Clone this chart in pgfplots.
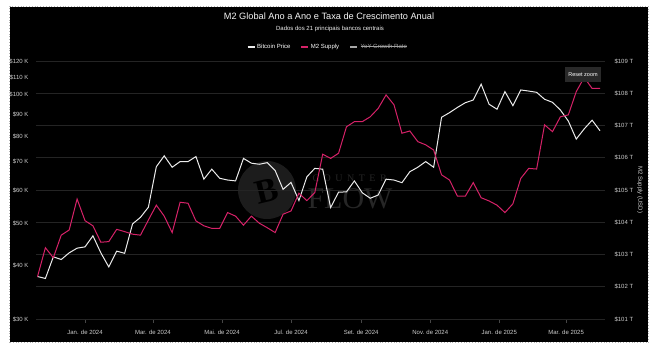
\documentclass[border=0pt]{standalone}
\usepackage{pgfplots}
\usepackage{pgfplotstable}
\pgfplotsset{compat=1.18}
\usepackage{fontspec}
\setmainfont{Liberation Sans}
\setsansfont{Liberation Sans}
\newfontfamily\wmfont{Liberation Serif}
\newfontfamily\wmspaced[LetterSpace=45]{Liberation Serif}
\newsavebox\strikebox
\newcommand\strike[1]{\sbox\strikebox{#1}\usebox\strikebox\hspace{-\wd\strikebox}\rule[0.3em]{\wd\strikebox}{0.45pt}}
\definecolor{mtwo}{RGB}{214,34,104}
\definecolor{btc}{RGB}{236,236,236}
\definecolor{gridc}{RGB}{36,36,36}
\definecolor{tickc}{RGB}{205,205,205}

\pgfplotstableread{
day btc m2
-42 37.7 102.31
-35 37.3 103.21
-28 41.9 102.90
-21 41.3 103.60
-14 42.8 103.76
-7 43.9 104.72
0 44.2 104.05
7 46.9 103.89
14 42.8 103.38
21 39.7 103.40
28 43.2 103.78
35 42.7 103.71
42 50.0 103.63
49 51.8 103.60
56 54.7 104.07
63 68.0 104.53
70 72.1 104.19
77 67.8 103.68
84 69.9 104.62
91 69.9 104.59
98 71.8 104.04
105 63.6 103.89
112 67.1 103.81
119 63.9 103.81
126 63.3 104.30
133 63.0 104.19
140 71.1 103.91
147 69.3 104.19
154 68.9 103.97
161 69.5 103.83
168 66.6 103.68
175 60.2 104.25
182 62.5 104.35
189 56.7 104.90
196 64.4 104.67
203 67.4 104.92
210 67.1 106.11
217 54.6 105.98
224 59.3 106.14
231 59.4 106.96
238 63.0 107.12
245 59.1 107.12
252 57.4 107.27
259 58.4 107.53
266 63.6 107.95
273 63.3 107.64
280 62.4 106.76
287 66.2 106.83
294 67.8 106.50
301 69.9 106.40
308 67.8 106.24
315 88.7 105.47
322 90.9 105.31
329 93.5 104.81
336 95.9 104.81
343 97.3 105.23
350 105.9 104.76
357 95.1 104.66
364 92.6 104.53
371 101.8 104.30
378 94.4 104.57
385 102.7 105.36
392 102.1 105.67
399 101.4 105.65
406 97.7 107.02
413 96.1 106.81
420 92.2 107.27
427 86.9 107.33
434 78.9 108.05
441 83.3 108.49
448 87.3 108.15
455 82.5 108.15
}\datatable

\begin{document}
\begin{tikzpicture}[x=1pt,y=1pt]
\useasboundingbox (0,0) rectangle (660,351);
\fill[white] (0,0) rectangle (660,351);
\fill[black] (10,9) rectangle (648,344);
\draw[gray!60, dotted, line width=0.8pt] (9.5,8.5) rectangle (648.5,344.5);
% watermark
\fill[black!89!white] (267,161) circle (29);
\node[rotate=14, text=black, font=\wmfont\bfseries\fontsize{34}{34}\selectfont] at (267,160) {B};
\node[text=black!85!white, font=\wmspaced\fontsize{10}{10}\selectfont, anchor=west] at (309,173) {COUNTER};
\node[text=black!85!white, font=\wmfont\fontsize{30}{30}\selectfont, anchor=west] at (304,152) {FLOW};

\begin{axis}[
  at={(36pt,32pt)}, anchor=south west, scale only axis,
  width=569pt, height=258pt,
  xmin=-43.3, xmax=459.4,
  ymode=log, ymin=30, ymax=120,
  axis x line*=bottom, axis y line*=left,
  axis line style={draw=none},
  xtick={0,60,121,182,244,305,366,425},
  xticklabels={Jan. de 2024, Mar. de 2024, Mai. de 2024, Jul. de 2024, Set. de 2024, Nov. de 2024, Jan. de 2025, Mar. de 2025},
  ytick={30,40,50,60,70,80,90,100,110,120},
  yticklabels={\$30 K,\$40 K,\$50 K,\$60 K,\$70 K,\$80 K,\$90 K,\$100 K,\$110 K,\$120 K},
  extra y ticks={30,35.676,42.426,50.454,60,71.352,84.853,100.907,120},
  extra y tick labels={},
  extra y tick style={grid=major, tick style={draw=none}},
  major grid style={gridc, line width=0.6pt},
  xtick style={draw=gray!55!black, line width=0.5pt},
  ytick style={draw=none},
  major tick length=4pt,
  minor tick num=0,
  tick align=outside,
  ticklabel style={font=\fontsize{6}{7}\selectfont, text=tickc},
  xticklabel style={yshift=-4pt},
]
\addplot[btc, line width=1pt] table[x=day, y=btc] {\datatable};
\end{axis}

\begin{axis}[
  at={(36pt,32pt)}, anchor=south west, scale only axis,
  width=569pt, height=258pt,
  xmin=-43.3, xmax=459.4,
  ymin=101, ymax=109,
  axis y line*=right, axis x line=none,
  axis line style={draw=none},
  ytick={101,102,103,104,105,106,107,108,109},
  yticklabels={\$101 T,\$102 T,\$103 T,\$104 T,\$105 T,\$106 T,\$107 T,\$108 T,\$109 T},
  ytick style={draw=none},
  major tick length=4pt,
  tick align=outside,
  ticklabel style={font=\fontsize{6}{7}\selectfont, text=tickc},
  yticklabel style={xshift=2pt},
  legend style={at={(0.513,1.054)}, anchor=center, draw=none, fill=none,
    text=white, font=\fontsize{6}{7}\selectfont, legend columns=3,
    /tikz/every even column/.append style={column sep=8pt}},
  legend image code/.code={\draw[#1] (0pt,0pt) -- (7pt,0pt);},
]
\addlegendimage{btc, line width=1.3pt}
\addlegendentry{Bitcoin Price}
\addlegendimage{mtwo, line width=1.3pt}
\addlegendentry{M2 Supply}
\addlegendimage{gray!70, line width=2.5pt}
\addlegendentry{\textcolor{gray!75}{\strike{YoY Growth Rate}}}
\addplot[mtwo, line width=1pt, forget plot] table[x=day, y=m2] {\datatable};
\end{axis}

\node[text=white!92!gray, font=\fontsize{9.2}{11}\selectfont] at (329,334.5) {M2 Global Ano a Ano e Taxa de Crescimento Anual};
\node[text=white!88!gray, font=\fontsize{6}{7}\selectfont] at (330,322) {Dados dos 21 principais bancos centrais};
\node[rotate=-90, text=tickc, font=\fontsize{6}{7}\selectfont] at (640,161) {M2 Supply (USD)};
\node[fill=black!84!white, text=white, font=\fontsize{5.5}{6}\selectfont, minimum width=36pt, minimum height=15pt, inner sep=0pt] at (583,276.5) {Reset zoom};
\end{tikzpicture}
\end{document}
